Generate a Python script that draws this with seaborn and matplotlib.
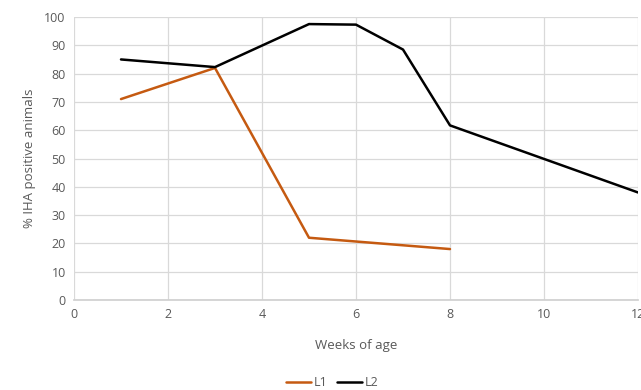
import matplotlib
matplotlib.use("Agg")
import matplotlib.pyplot as plt
import seaborn as sns
import pandas as pd

l1_weeks = [1, 3, 5, 8]
l1_vals = [71, 82, 22, 18]
l2_weeks = [1, 3, 5, 6, 7, 8, 12]
l2_vals = [85, 82.3, 97.5, 97.3, 88.5, 61.7, 38]

df = pd.concat([
    pd.DataFrame({"week": l1_weeks, "val": l1_vals, "line": "L1"}),
    pd.DataFrame({"week": l2_weeks, "val": l2_vals, "line": "L2"}),
])

sns.set_theme(style="white")
plt.rcParams['font.family'] = ['Open Sans', 'DejaVu Sans']
txt = "#595959"

fig = plt.figure(figsize=(6.41, 3.90), dpi=100)
ax = fig.add_axes([74/641, 1-300/390, (638-74)/641, (300-17)/390])
sns.lineplot(data=df, x="week", y="val", hue="line",
             palette={"L1": "#C55A11", "L2": "#000000"}, linewidth=1.8,
             ax=ax, legend=True, sort=False)

ax.set_xlim(0, 12)
ax.set_ylim(0, 100)
ax.set_xticks(range(0, 13, 2))
ax.set_yticks(range(0, 101, 10))
ax.grid(True, color="#d9d9d9", linewidth=0.9)
ax.set_axisbelow(True)
for s in ["top", "right", "left"]:
    ax.spines[s].set_visible(False)
ax.spines["bottom"].set_color("#d0d0d0")
ax.tick_params(axis="both", colors=txt, labelsize=9, length=0, pad=6)
ax.set_xlabel("Weeks of age", color=txt, fontsize=9.5, labelpad=13)
ax.set_ylabel("% IHA positive animals", color=txt, fontsize=9.5, labelpad=6)

h, l = ax.get_legend_handles_labels()
fig.legend(h, l, loc="center", bbox_to_anchor=(332/641, 1-383/390), ncol=2,
           frameon=False, fontsize=9, handlelength=2.0, columnspacing=0.8,
           handletextpad=0.2, labelcolor=txt)
ax.get_legend().remove()

fig.savefig("out.png", dpi=100)
